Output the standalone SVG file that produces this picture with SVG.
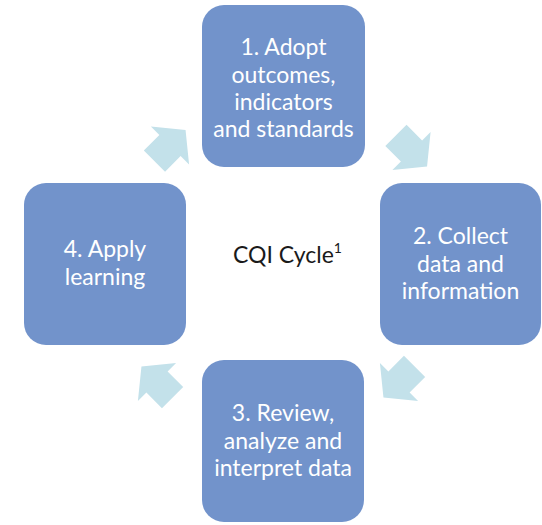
<svg xmlns="http://www.w3.org/2000/svg" width="542" height="525" viewBox="0 0 542 525">
<style>
.box{fill:#7293cb;}
.arr{fill:#c3e1ea;}
.t{font-family:Lato,"Liberation Sans",sans-serif;font-size:23px;fill:#ffffff;text-anchor:middle;}
.c{font-family:Lato,"Liberation Sans",sans-serif;font-size:23px;fill:#1a1a1a;}
</style>
<defs>
<polygon id="ar" points="22,0 0,-27 0,-15 -22,-15 -22,15 0,15 0,27"/>
</defs>
<rect width="542" height="525" fill="#ffffff"/>
<g id="connectors">
<use href="#ar" class="arr" transform="translate(170,145.5) rotate(-45)"/>
<use href="#ar" class="arr" transform="translate(411.5,151) rotate(45)"/>
<use href="#ar" class="arr" transform="translate(399,382) rotate(135)"/>
<use href="#ar" class="arr" transform="translate(157,382) rotate(225)"/>
</g>
<g id="node1">
<rect class="box" x="202" y="5" width="163" height="162" rx="22"/>
<text class="t" x="283.5" y="55">1. Adopt</text>
<text class="t" x="283.5" y="82.5">outcomes,</text>
<text class="t" x="283.5" y="109.5">indicators</text>
<text class="t" x="283.5" y="136.5">and standards</text>
</g>
<g id="node2">
<rect class="box" x="380" y="183" width="161" height="162" rx="22"/>
<text class="t" x="460.5" y="244">2. Collect</text>
<text class="t" x="460.5" y="272">data and</text>
<text class="t" x="460.5" y="299">information</text>
</g>
<g id="node3">
<rect class="box" x="202" y="360" width="162" height="162" rx="22"/>
<text class="t" x="283" y="421">3. Review,</text>
<text class="t" x="283" y="449">analyze and</text>
<text class="t" x="283" y="476">interpret data</text>
</g>
<g id="node4">
<rect class="box" x="24" y="183" width="162" height="162" rx="22"/>
<text class="t" x="105" y="257">4. Apply</text>
<text class="t" x="105" y="285">learning</text>
</g>
<g id="center">
<text class="c" x="233" y="263">CQI Cycle<tspan font-size="14" dy="-10">1</tspan></text>
</g>
</svg>
